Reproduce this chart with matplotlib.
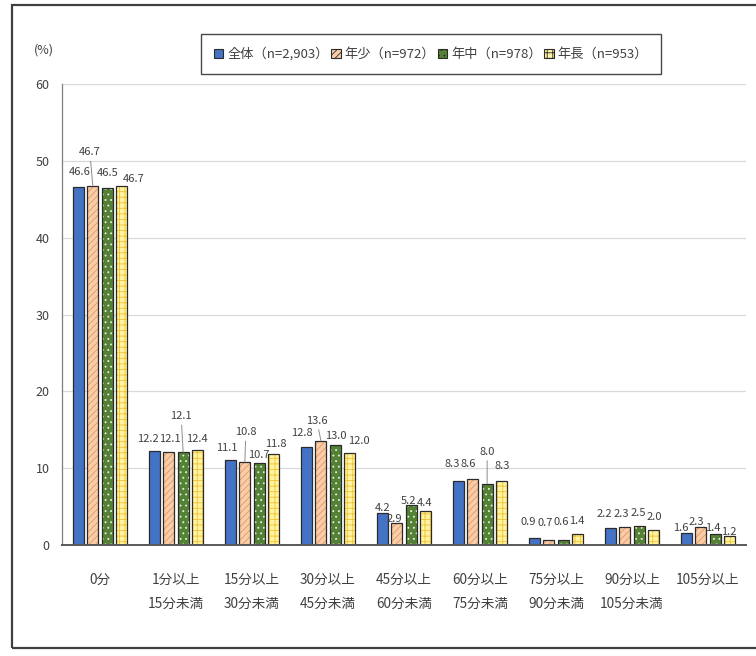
import matplotlib
matplotlib.use("Agg")
import matplotlib.pyplot as plt
from matplotlib.patches import Patch, Rectangle
import numpy as np

plt.rcParams['font.family'] = ['Noto Sans CJK JP', 'DejaVu Sans']
plt.rcParams['hatch.linewidth'] = 0.6

# ---- data ----
categories = ["0分", "1分以上\n15分未満", "15分以上\n30分未満", "30分以上\n45分未満",
              "45分以上\n60分未満", "60分以上\n75分未満", "75分以上\n90分未満",
              "90分以上\n105分未満", "105分以上"]
series_names = ["全体（n=2,903）", "年少（n=972）", "年中（n=978）", "年長（n=953）"]
zentai = [46.6, 12.2, 11.1, 12.8, 4.2, 8.3, 0.9, 2.2, 1.6]
nensho = [46.7, 12.1, 10.8, 13.6, 2.9, 8.6, 0.7, 2.3, 2.3]
nenchu = [46.5, 12.1, 10.7, 13.0, 5.2, 8.0, 0.6, 2.5, 1.4]
nencho = [46.7, 12.4, 11.8, 12.0, 4.4, 8.3, 1.4, 2.0, 1.2]
yticks = [0, 10, 20, 30, 40, 50, 60]

series_values = [zentai, nensho, nenchu, nencho]

# ---- styles ----
face_colors = ["#4472C4", "#F9CDAA", "#548235", "#FFF3A0"]
hatch_colors = ["#4472C4", "#E8955A", "#E8F0E0", "#F2C230"]
hatches = [None, "/////", "...", "+++"]
edge_color = "#2B2B2B"
text_color = "#404040"

# label offsets (pixels) from each bar top: (dx, dy, leader line)
label_shift = [
    [(1, 15, 0), (-7, 12, 0), (-4, 12, 0), (-5, 14, 0), (0, 5, 0), (-6, 17, 0), (-6, 16, 0), (-6, 14, 0), (-6, 5, 0)],
    [(-3, 34, 1), (1, 13, 0), (1, 30, 1), (-4, 20, 1), (-2, 4, 0), (-5, 15, 0), (-4, 17, 0), (-4, 13, 0), (-5, 5, 0)],
    [(1, 15, 0), (-2, 36, 1), (0, 8, 0), (1, 9, 0), (-3, 4, 0), (0, 32, 1), (-2, 18, 0), (-1, 13, 0), (-2, 6, 0)],
    [(12, 7, 0), (0, 11, 0), (2, 10, 0), (9, 12, 0), (-1, 8, 0), (1, 15, 0), (-1, 13, 0), (1, 13, 0), (-1, 4, 0)],
]

fig = plt.figure(figsize=(7.56, 6.56), dpi=100)
ax = fig.add_axes([62 / 756, 1 - 545 / 656, 684 / 756, 461 / 656])

x = np.arange(len(categories))
pitch = 0.188
width = 0.148
offsets = (np.arange(4) - 1.5) * pitch

for s, vals in enumerate(series_values):
    xs = x + offsets[s]
    # fill + hatch layer
    ax.bar(xs, vals, width, color=face_colors[s], edgecolor=hatch_colors[s],
           hatch=hatches[s], linewidth=0, zorder=3)
    # outline layer
    ax.bar(xs, vals, width, fill=False, edgecolor=edge_color, linewidth=0.9, zorder=4)
    for i, v in enumerate(vals):
        dx, dy, leader = label_shift[s][i]
        kw = {}
        if leader:
            kw['arrowprops'] = dict(arrowstyle='-', color='#8C8C8C', lw=0.7,
                                    shrinkA=1, shrinkB=0)
        ax.annotate(f"{v:.1f}", xy=(xs[i], v), xytext=(dx * 0.72, dy * 0.72),
                    textcoords='offset points', ha='center', va='center',
                    fontsize=8, color=text_color, zorder=5, **kw)

ax.set_xlim(-0.5, len(categories) - 0.5)
ax.set_ylim(0, 60)
ax.set_yticks(yticks)
ax.set_yticklabels([str(t) for t in yticks], fontsize=9, color=text_color)
ax.set_xticks(x)
ax.set_xticklabels(categories, fontsize=9.8, color=text_color, linespacing=1.9)
ax.tick_params(axis='both', length=0)
ax.tick_params(axis='x', pad=20)
ax.tick_params(axis='y', pad=9)

ax.grid(axis='y', color='#D9D9D9', linewidth=0.9, zorder=0)
ax.set_axisbelow(True)
for side in ('top', 'right'):
    ax.spines[side].set_visible(False)
ax.spines['left'].set_color('#7F7F7F')
ax.spines['left'].set_linewidth(0.9)
ax.spines['bottom'].set_color('#595959')
ax.spines['bottom'].set_linewidth(1.4)
ax.spines['bottom'].set_zorder(6)

fig.text(44 / 756, 1 - 50 / 656, "(%)", fontsize=9, color=text_color,
         ha='center', va='center')

handles = [Patch(facecolor=face_colors[s], edgecolor=edge_color, hatch=hatches[s],
                 linewidth=0.8) for s in range(4)]
leg = fig.legend(handles, series_names, loc='center', bbox_to_anchor=(431 / 756, 1 - 54 / 656),
                 ncol=4, fontsize=9.5, frameon=True, fancybox=False, edgecolor='#1A1A1A',
                 handlelength=0.7, handleheight=0.7, handletextpad=0.3, columnspacing=0.2,
                 borderpad=1.0, labelcolor=text_color)
leg.get_frame().set_linewidth(1.0)

# outer frame
fig.patches.append(Rectangle((12 / 756, 1 - 648 / 656), 1.0, 643 / 656,
                             transform=fig.transFigure, fill=False,
                             edgecolor='#404040', linewidth=1.6))

fig.savefig("out.png", dpi=100)
